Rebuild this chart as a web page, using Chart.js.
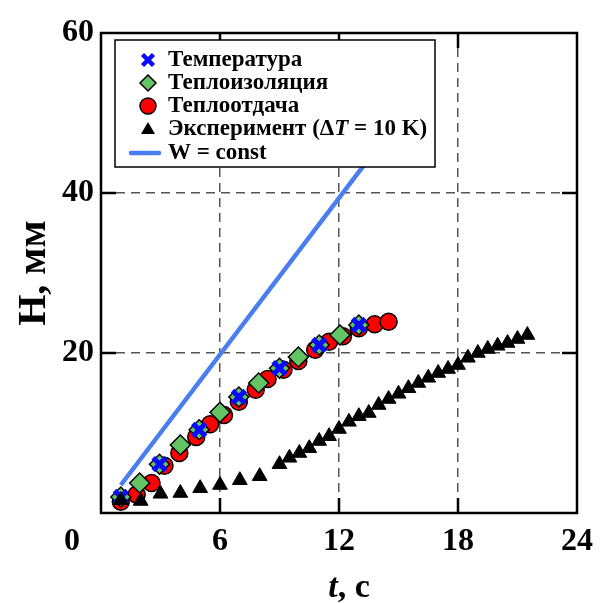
<!DOCTYPE html>
<html>
<head>
<meta charset="utf-8">
<script src="https://cdn.jsdelivr.net/npm/chart.js@4.4.0/dist/chart.umd.min.js"></script>
<style>
  html, body { margin: 0; padding: 0; background: #fff; }
</style>
</head>
<body>
<canvas id="chart" width="603" height="603"></canvas>
<script>
// Температура
const tempT = [1.0, 2.95, 4.95, 6.95, 9.0, 11.0, 13.0];
const tempH = [2.0, 6.1, 10.4, 14.5, 18.1, 21.0, 23.5];

// Теплоизоляция
const insT = [1.0, 1.95, 2.95, 4.0, 4.95, 6.0, 6.95, 7.95, 9.0, 9.95, 11.0, 12.05, 13.0];
const insH = [2.0, 3.75, 6.1, 8.5, 10.4, 12.6, 14.5, 16.25, 18.1, 19.5, 21.0, 22.25, 23.5];

// Теплоотдача
const heatT = [1.0, 1.8, 2.55, 3.2, 3.95, 4.8, 5.5, 6.2, 6.95, 7.8, 8.4, 9.2, 9.95, 10.8, 11.5, 12.2, 13.0, 13.8, 14.5];
const heatH = [1.4, 2.3, 3.75, 5.9, 7.5, 9.5, 11.1, 12.25, 13.9, 15.4, 16.75, 17.9, 19.0, 20.4, 21.4, 22.1, 23.1, 23.6, 23.9];

// Эксперимент (dT = 10 K)
const expT = [1.0, 2.0, 3.0, 4.0, 5.0, 6.0, 7.0, 8.0, 9.0, 9.5, 10.0, 10.5, 11.0, 11.5, 12.0, 12.5, 13.0, 13.5,
  14.0, 14.5, 15.0, 15.5, 16.0, 16.5, 17.0, 17.5, 18.0, 18.5, 19.0, 19.5, 20.0, 20.5, 21.0, 21.5];
const expH = [1.6, 1.5, 2.4, 2.5, 3.1, 3.5, 4.1, 4.6, 6.1, 6.9, 7.5, 8.1, 9.0, 9.6, 10.5, 11.4, 12.1, 12.5,
  13.5, 14.25, 14.9, 15.6, 16.25, 16.9, 17.5, 18.0, 18.5, 19.4, 20.0, 20.5, 20.9, 21.25, 21.75, 22.25];

// W = const
const lineT = [1.0, 14.0];
const lineH = [3.5, 45.9];

const xTicks = [0, 6, 12, 18, 24];
const yTicks = [0, 20, 40, 60];

const SERIF = '"Liberation Serif", "Times New Roman", serif';
const BLUE = "#0a0aff";
const GREEN = "#62c462";
const RED = "#ff0000";
const LINEBLUE = "#4a7ef0";

function pts(xs, ys) {
  return xs.map((x, i) => ({ x: x, y: ys[i] }));
}

// frame, inner ticks, corner zero, axis titles, legend
const decor = {
  id: "decor",
  afterDatasetsDraw(chart) {
    const ctx = chart.ctx;
    const a = chart.chartArea;
    const sx = chart.scales.x;
    const sy = chart.scales.y;
    ctx.save();
    ctx.strokeStyle = "#000";
    ctx.lineWidth = 2.5;
    ctx.strokeRect(a.left, a.top, a.right - a.left, a.bottom - a.top);

    ctx.lineWidth = 2.5;
    ctx.beginPath();
    xTicks.slice(1, -1).forEach((v) => {
      const px = sx.getPixelForValue(v);
      ctx.moveTo(px, a.bottom); ctx.lineTo(px, a.bottom - 15);
      ctx.moveTo(px, a.top); ctx.lineTo(px, a.top + 15);
    });
    yTicks.slice(1, -1).forEach((v) => {
      const py = sy.getPixelForValue(v);
      ctx.moveTo(a.left, py); ctx.lineTo(a.left + 15, py);
      ctx.moveTo(a.right, py); ctx.lineTo(a.right - 15, py);
    });
    ctx.stroke();

    // shared zero at the corner
    ctx.fillStyle = "#000";
    ctx.font = "bold 32px " + SERIF;
    ctx.textAlign = "center";
    ctx.textBaseline = "middle";
    ctx.fillText("0", a.left - 29, a.bottom + 29);

    // x title: t, с
    ctx.textBaseline = "alphabetic";
    ctx.textAlign = "left";
    ctx.font = "italic bold 34px " + SERIF;
    const tW = ctx.measureText("t").width;
    ctx.font = "bold 34px " + SERIF;
    const restW = ctx.measureText(", с").width;
    let x0 = (a.left + a.right) / 2 + 10 - (tW + restW) / 2;
    ctx.font = "italic bold 34px " + SERIF;
    ctx.fillText("t", x0, 597);
    ctx.font = "bold 34px " + SERIF;
    ctx.fillText(", с", x0 + tW, 597);

    // y title: H, мм
    ctx.save();
    ctx.translate(45, (a.top + a.bottom) / 2);
    ctx.rotate(-Math.PI / 2);
    ctx.textAlign = "center";
    ctx.font = "bold 40px " + SERIF;
    ctx.fillText("H, мм", 0, 0);
    ctx.restore();

    // legend box
    const lx = 115, ly = 40, lw = 320, lh = 127;
    ctx.fillStyle = "#fff";
    ctx.fillRect(lx, ly, lw, lh);
    ctx.strokeStyle = "#000";
    ctx.lineWidth = 1.5;
    ctx.strokeRect(lx, ly, lw, lh);

    const mx = 148;
    const rows = [60, 83, 106, 129, 153];
    // cross
    ctx.strokeStyle = BLUE;
    ctx.lineWidth = 4.5;
    ctx.beginPath();
    ctx.moveTo(mx - 5.5, rows[0] - 5.5); ctx.lineTo(mx + 5.5, rows[0] + 5.5);
    ctx.moveTo(mx - 5.5, rows[0] + 5.5); ctx.lineTo(mx + 5.5, rows[0] - 5.5);
    ctx.stroke();
    // diamond
    ctx.fillStyle = GREEN;
    ctx.strokeStyle = "#000";
    ctx.lineWidth = 1.5;
    ctx.beginPath();
    ctx.moveTo(mx, rows[1] - 8); ctx.lineTo(mx + 8, rows[1]);
    ctx.lineTo(mx, rows[1] + 8); ctx.lineTo(mx - 8, rows[1]);
    ctx.closePath(); ctx.fill(); ctx.stroke();
    // circle
    ctx.fillStyle = RED;
    ctx.beginPath();
    ctx.arc(mx, rows[2], 8, 0, Math.PI * 2);
    ctx.fill(); ctx.stroke();
    // triangle
    ctx.fillStyle = "#000";
    ctx.beginPath();
    ctx.moveTo(mx, rows[3] - 7); ctx.lineTo(mx + 7, rows[3] + 5); ctx.lineTo(mx - 7, rows[3] + 5);
    ctx.closePath(); ctx.fill();
    // line
    ctx.strokeStyle = LINEBLUE;
    ctx.lineWidth = 4.5;
    ctx.lineCap = "round";
    ctx.beginPath();
    ctx.moveTo(131, rows[4]); ctx.lineTo(159, rows[4]);
    ctx.stroke();

    ctx.fillStyle = "#000";
    ctx.textAlign = "left";
    ctx.textBaseline = "middle";
    ctx.font = "bold 23px " + SERIF;
    const tx = 168;
    ctx.fillText("Температура", tx, rows[0]);
    ctx.fillText("Теплоизоляция", tx, rows[1]);
    ctx.fillText("Теплоотдача", tx, rows[2]);
    let cx = tx;
    const seg1 = "Эксперимент (Δ";
    ctx.fillText(seg1, cx, rows[3]);
    cx += ctx.measureText(seg1).width;
    ctx.font = "italic bold 23px " + SERIF;
    ctx.fillText("T", cx, rows[3]);
    cx += ctx.measureText("T").width;
    ctx.font = "bold 23px " + SERIF;
    ctx.fillText(" = 10 K)", cx, rows[3]);
    ctx.fillText("W = const", tx, rows[4]);
    ctx.restore();
  }
};

const tickFont = { family: SERIF, size: 32, weight: "bold" };

new Chart(document.getElementById("chart"), {
  type: "scatter",
  data: {
    datasets: [
      {
        label: "Температура",
        data: pts(tempT, tempH),
        pointStyle: "crossRot",
        pointRadius: 9,
        pointBorderColor: BLUE,
        pointBackgroundColor: BLUE,
        pointBorderWidth: 5,
        order: 2
      },
      {
        label: "Теплоизоляция",
        data: pts(insT, insH),
        pointStyle: "rectRot",
        pointRadius: 10,
        pointBackgroundColor: GREEN,
        pointBorderColor: "#000",
        pointBorderWidth: 1.5,
        order: 3
      },
      {
        label: "Теплоотдача",
        data: pts(heatT, heatH),
        pointStyle: "circle",
        pointRadius: 8.5,
        pointBackgroundColor: RED,
        pointBorderColor: "#000",
        pointBorderWidth: 1.5,
        order: 4
      },
      {
        label: "Эксперимент (ΔT = 10 K)",
        data: pts(expT, expH),
        pointStyle: "triangle",
        pointRadius: 8.5,
        pointBackgroundColor: "#000",
        pointBorderColor: "#000",
        pointBorderWidth: 1,
        order: 1
      },
      {
        label: "W = const",
        type: "line",
        data: pts(lineT, lineH),
        showLine: true,
        pointRadius: 0,
        borderColor: LINEBLUE,
        borderWidth: 4.5,
        fill: false,
        order: 0
      }
    ]
  },
  options: {
    responsive: false,
    animation: false,
    layout: { padding: { left: 0, right: 22, top: 33, bottom: 0 } },
    plugins: { legend: { display: false }, tooltip: { enabled: false } },
    scales: {
      x: {
        type: "linear",
        min: 0,
        max: 24,
        afterFit: (s) => { s.height = 90; },
        afterBuildTicks: (s) => { s.ticks = xTicks.map((v) => ({ value: v })); },
        ticks: {
          color: "#000",
          font: tickFont,
          padding: 10,
          maxRotation: 0,
          autoSkip: false,
          callback: (v) => (v === 0 ? "" : v)
        },
        grid: { color: "#555", lineWidth: 1.5, drawTicks: false },
        border: { display: false, dash: [9, 6] }
      },
      y: {
        type: "linear",
        min: 0,
        max: 60,
        afterFit: (s) => { s.width = 101; },
        afterBuildTicks: (s) => { s.ticks = yTicks.map((v) => ({ value: v })); },
        ticks: {
          color: "#000",
          font: tickFont,
          padding: 7,
          autoSkip: false,
          callback: (v) => (v === 0 ? "" : v)
        },
        grid: { color: "#555", lineWidth: 1.5, drawTicks: false },
        border: { display: false, dash: [9, 6] }
      }
    }
  },
  plugins: [decor]
});
</script>
</body>
</html>
